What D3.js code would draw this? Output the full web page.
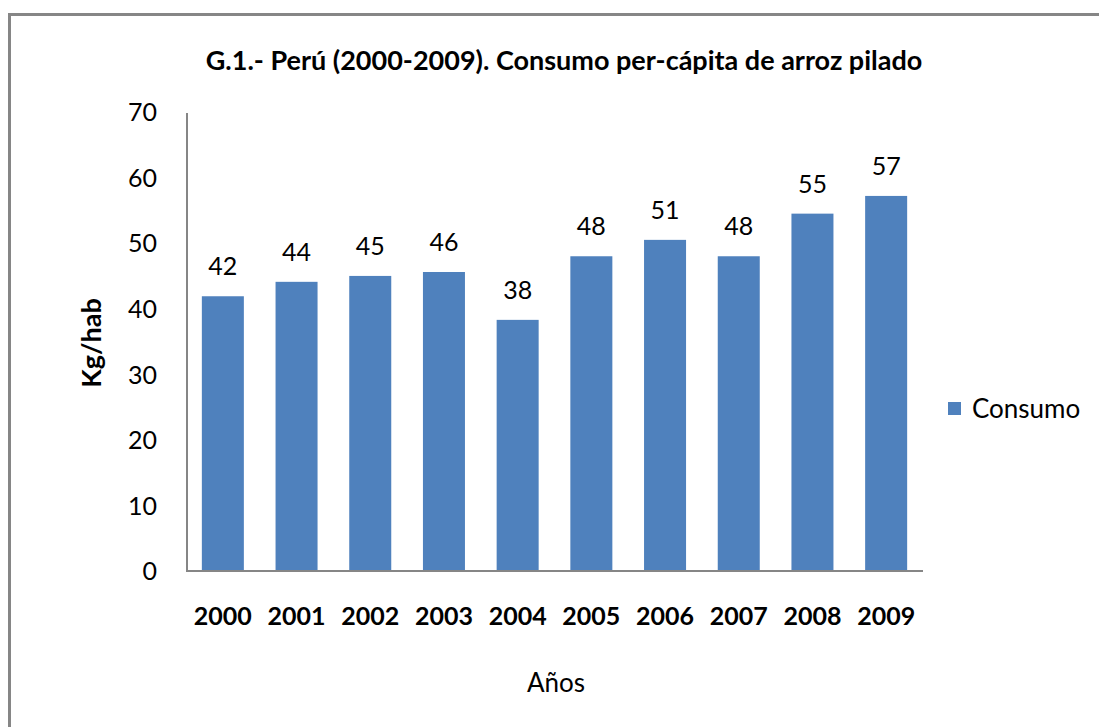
<!DOCTYPE html>
<meta charset="utf-8">
<style>
    body {
        margin: 0;
        background: #fff;
    }

    svg text {
        font-family: Lato, "Open Sans", sans-serif;
    }

    .axis path,
    .axis line {
        fill: none;
        stroke: #868686;
        stroke-width: 2;
        shape-rendering: crispEdges;
    }

    .axis text {
        fill: #000;
    }
</style>

<body>
    <script src="https://d3js.org/d3.v7.min.js"></script>
    <script>

        // datos
        var years = ["2000", "2001", "2002", "2003", "2004", "2005", "2006", "2007", "2008", "2009"];
        var consumo = [41.9, 44.1, 45.0, 45.6, 38.3, 48.0, 50.5, 48.0, 54.5, 57.2];
        var yTicks = [0, 10, 20, 30, 40, 50, 60, 70];

        var W = 1099, H = 727;
        var plot = { left: 186, top: 112, right: 923, bottom: 571 };

        var svg = d3.select("body").append("svg")
            .attr("width", W)
            .attr("height", H);

        // marco gris
        svg.append("rect")
            .attr("x", 9.5).attr("y", 14.5)
            .attr("width", W + 20).attr("height", H + 20)
            .attr("fill", "none")
            .attr("stroke", "#868686")
            .attr("stroke-width", 3);

        var x = d3.scaleBand()
            .domain(years)
            .range([plot.left, plot.right])
            .paddingInner(0.43)
            .paddingOuter(0.215);

        var y = d3.scaleLinear()
            .domain([0, 70])
            .range([plot.bottom, plot.top]);

        var data = years.map(function (d, i) { return { year: d, value: consumo[i] }; });

        svg.append("text")
            .attr("x", 564)
            .attr("y", 70)
            .attr("text-anchor", "middle")
            .style("font-size", "27px")
            .style("font-weight", "bold")
            .text("G.1.- Perú (2000-2009). Consumo per-cápita de arroz pilado");

        // eje y
        var yAxis = svg.append("g")
            .attr("class", "axis")
            .attr("font-family", null)
            .attr("transform", "translate(" + plot.left + ",0)")
            .call(d3.axisLeft(y).tickValues(yTicks).tickSize(0).tickPadding(29));
        yAxis.attr("font-family", null).attr("font-size", null);
        yAxis.selectAll("text").style("font-size", "25px").attr("dy", "0.35em");

        svg.selectAll(".bar")
            .data(data)
            .enter().append("rect")
            .attr("class", "bar")
            .attr("x", function (d) { return x(d.year); })
            .attr("width", x.bandwidth())
            .attr("y", function (d) { return y(d.value); })
            .attr("height", function (d) { return y(0) - y(d.value); })
            .attr("fill", "#4f81bd");

        // eje x
        var xAxis = svg.append("g")
            .attr("class", "axis")
            .attr("transform", "translate(0," + plot.bottom + ")")
            .call(d3.axisBottom(x).tickSize(0).tickPadding(36));
        xAxis.attr("font-family", null).attr("font-size", null);
        xAxis.select(".domain").attr("d", "M" + plot.left + ",0H" + plot.right);
        xAxis.selectAll("text").style("font-size", "25px").style("font-weight", "bold");

        // etiquetas de valores
        svg.selectAll(".lbl")
            .data(data)
            .enter().append("text")
            .attr("class", "lbl")
            .attr("x", function (d) { return x(d.year) + x.bandwidth() / 2; })
            .attr("y", function (d) { return y(d.value) - 21; })
            .attr("text-anchor", "middle")
            .style("font-size", "25px")
            .text(function (d) { return Math.round(d.value); });

        svg.append("text")
            .attr("transform", "translate(101,343) rotate(-90)")
            .attr("text-anchor", "middle")
            .style("font-size", "27px")
            .style("font-weight", "bold")
            .text("Kg/hab");

        svg.append("text")
            .attr("x", 556)
            .attr("y", 692)
            .attr("text-anchor", "middle")
            .style("font-size", "26px")
            .text("Años");

        // leyenda
        var legend = svg.append("g").attr("transform", "translate(948,402)");
        legend.append("rect")
            .attr("width", 13).attr("height", 13)
            .attr("fill", "#4f81bd");
        legend.append("text")
            .attr("x", 24).attr("y", 7)
            .attr("dy", "0.35em")
            .style("font-size", "26px")
            .text("Consumo");

    </script>
</body>
